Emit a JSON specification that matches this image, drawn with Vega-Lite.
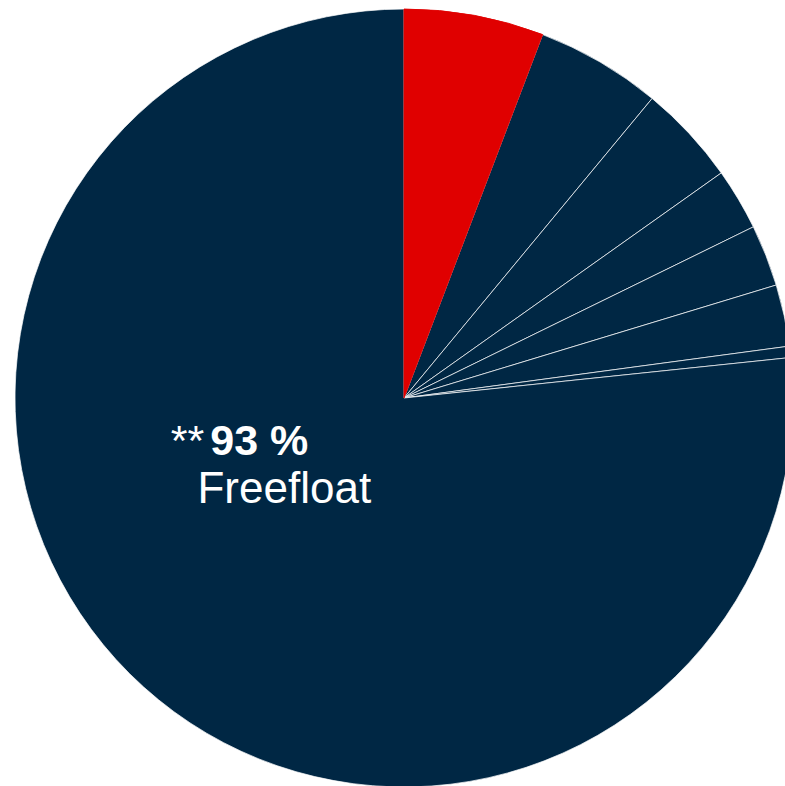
{
  "$schema": "https://vega.github.io/schema/vega-lite/v6.json",
  "width": 762,
  "height": 776,
  "padding": {"left": 23, "top": 10, "right": 0, "bottom": 0},
  "autosize": {"type": "none"},
  "config": {"view": {"stroke": null}},
  "data": {
    "values": [
      {"idx": 1, "name": "Anteil 1", "kind": "rot", "share": 5.80, "note": "", "pct": "", "label": ""},
      {"idx": 2, "name": "Anteil 2", "kind": "blau", "share": 5.21, "note": "", "pct": "", "label": ""},
      {"idx": 3, "name": "Anteil 3", "kind": "blau", "share": 4.17, "note": "", "pct": "", "label": ""},
      {"idx": 4, "name": "Anteil 4", "kind": "blau", "share": 2.57, "note": "", "pct": "", "label": ""},
      {"idx": 5, "name": "Anteil 5", "kind": "blau", "share": 2.56, "note": "", "pct": "", "label": ""},
      {"idx": 6, "name": "Anteil 6", "kind": "blau", "share": 2.56, "note": "", "pct": "", "label": ""},
      {"idx": 7, "name": "Anteil 7", "kind": "blau", "share": 0.47, "note": "", "pct": "", "label": ""},
      {"idx": 8, "name": "Freefloat", "kind": "blau", "share": 76.66, "note": "**", "pct": "93 %", "label": "Freefloat"}
    ]
  },
  "encoding": {
    "theta": {"field": "share", "type": "quantitative", "stack": true},
    "order": {"field": "idx", "type": "quantitative"}
  },
  "layer": [
    {
      "mark": {"type": "arc", "outerRadius": 389, "stroke": "#ffffff", "strokeWidth": 0.7},
      "encoding": {
        "color": {"field": "kind", "type": "nominal", "scale": {"domain": ["rot", "blau"], "range": ["#E00000", "#002744"]}, "legend": null}
      }
    },
    {
      "mark": {"type": "arc", "outerRadius": 389, "strokeWidth": 0.9},
      "encoding": {
        "color": {"field": "kind", "type": "nominal", "legend": null},
        "stroke": {"field": "kind", "type": "nominal", "scale": {"domain": ["rot", "blau"], "range": ["#E00000", "#002744"]}, "legend": null},
        "opacity": {"condition": {"test": "datum.kind === 'rot'", "value": 1}, "value": 0}
      }
    },
    {
      "mark": {"type": "text", "radius": 140, "font": "Liberation Sans", "fontSize": 44, "color": "#ffffff", "align": "center", "baseline": "alphabetic", "dx": -26, "dy": 1},
      "encoding": {"text": {"field": "label"}}
    },
    {
      "mark": {"type": "text", "radius": 140, "font": "Liberation Sans", "fontSize": 43, "fontWeight": "bold", "color": "#ffffff", "align": "left", "baseline": "alphabetic", "dx": -100, "dy": -47},
      "encoding": {"text": {"field": "pct"}}
    },
    {
      "mark": {"type": "text", "radius": 140, "font": "Liberation Sans", "fontSize": 43, "color": "#ffffff", "align": "right", "baseline": "alphabetic", "dx": -106, "dy": -47},
      "encoding": {"text": {"field": "note"}}
    }
  ]
}
